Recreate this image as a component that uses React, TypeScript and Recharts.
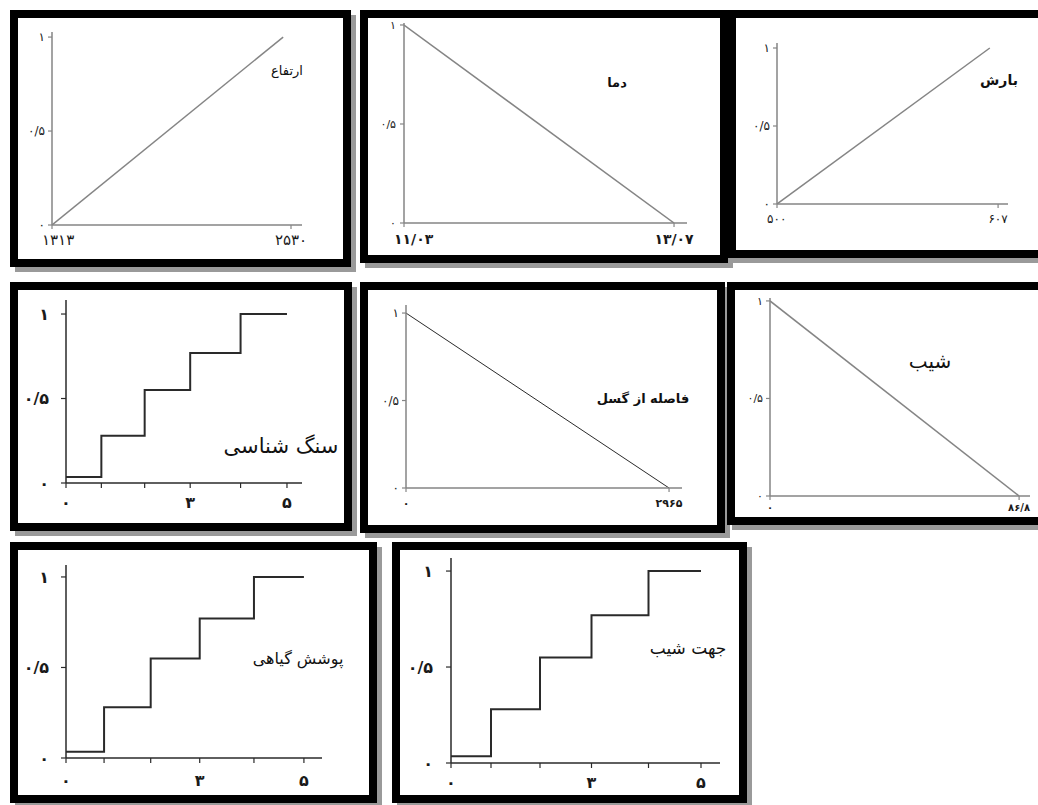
import { LineChart, Line, XAxis, YAxis } from "recharts";

const FONT = "'DejaVu Sans', sans-serif";

// membership axis, shared by every panel
const yTicks = [0, 0.5, 1];
const yTickLabels = ["۰", "۰/۵", "۱"];

// ارتفاع
const elevationX = [1313, 2490];
const elevationY = [0, 1];
const elevationTicks = [1313, 2530];
const elevationTickLabels = ["۱۳۱۳", "۲۵۳۰"];

// دما
const tempX = [11.03, 13.07];
const tempY = [1, 0];
const tempTicks = [11.03, 13.07];
const tempTickLabels = ["۱۱/۰۳", "۱۳/۰۷"];

// بارش
const rainX = [500, 603];
const rainY = [0, 1];
const rainTicks = [500, 607];
const rainTickLabels = ["۵۰۰", "۶۰۷"];

// فاصله از گسل
const faultX = [0, 2965];
const faultY = [1, 0];
const faultTicks = [0, 2965];
const faultTickLabels = ["۰", "۲۹۶۵"];

// شیب
const slopeX = [0, 86.8];
const slopeY = [1, 0];
const slopeTicks = [0, 86.8];
const slopeTickLabels = ["۰", "۸۶/۸"];

// class-based factors (سنگ شناسی، پوشش گیاهی، جهت شیب)
const classX = [0, 0.8, 1.78, 2.81, 3.95, 5];
const classY = [0.035, 0.28, 0.55, 0.77, 1, 1];
const classTicks = [0, 0.8, 1.78, 2.81, 3.95, 5];
const classTickLabels = ["۰", "", "", "۳", "", "۵"];

const toRows = (xs: number[], ys: number[]) => xs.map((x, i) => ({ x, y: ys[i] }));

type PanelProps = {
  box: [number, number, number, number]; // outer left, top, width, height
  plot: [number, number, number, number]; // y-axis x, x-axis y, axis top, axis right
  xDomain: [number, number];
  yDomain: [number, number];
  rows: { x: number; y: number }[];
  xTicks: number[];
  xLabels: string[];
  step?: boolean;
  lineColor: string;
  lineWidth: number;
  axisColor: string;
  yFont: number;
  xFont: number;
  xBold?: boolean;
  xGap: number;
  yGap: number;
  firstStart?: boolean;
  title: string;
  titleAt: [number, number];
  titleSize: number;
  titleBold?: boolean;
};

const BORDER = 8;

function Panel(p: PanelProps) {
  const [left, top, width, height] = p.box;
  const [axisX, axisY, axisTop, axisRight] = p.plot;
  const innerL = left + BORDER;
  const innerT = top + BORDER;
  const innerW = width - 2 * BORDER;
  const innerH = height - 2 * BORDER;
  const tickSize = p.step ? 5 : 4;

  const renderXTick = (t: any) => {
    const start = p.firstStart && t.index === 0;
    return (
      <text
        x={start ? t.x - 10 : t.x}
        y={t.y}
        dy="0.75em"
        textAnchor={start ? "start" : "middle"}
        fontSize={p.xFont}
        fontWeight={p.xBold ? "bold" : "normal"}
        fontFamily={FONT}
        fill="#1a1a1a"
      >
        {p.xLabels[t.index]}
      </text>
    );
  };

  return (
    <>
      <div
        style={{
          position: "absolute",
          left,
          top,
          width,
          height,
          boxSizing: "border-box",
          border: `${BORDER}px solid #000`,
          boxShadow: "5px 5px 0 #9a9a9a",
          background: "#fff",
        }}
      >
        <LineChart
          width={innerW}
          height={innerH}
          data={p.rows}
          margin={{ top: axisTop - innerT, right: innerL + innerW - axisRight, left: 0, bottom: 0 }}
        >
          <XAxis
            type="number"
            dataKey="x"
            domain={p.xDomain}
            ticks={p.xTicks}
            interval={0}
            allowDataOverflow
            height={innerT + innerH - axisY}
            tickSize={tickSize}
            tickMargin={p.xGap}
            tick={renderXTick}
            axisLine={{ stroke: p.axisColor, strokeWidth: 1.5 }}
            tickLine={{ stroke: p.axisColor, strokeWidth: 1.2 }}
          />
          <YAxis
            type="number"
            domain={p.yDomain}
            ticks={yTicks}
            interval={0}
            allowDataOverflow
            width={axisX - innerL}
            tickSize={tickSize}
            tickMargin={p.yGap}
            tickFormatter={(_v: number, i: number) => yTickLabels[i]}
            tick={{ fontSize: p.yFont, fill: "#1a1a1a", fontFamily: FONT, fontWeight: p.step ? "bold" : "normal" }}
            axisLine={{ stroke: p.axisColor, strokeWidth: 1.5 }}
            tickLine={{ stroke: p.axisColor, strokeWidth: 1.2 }}
          />
          <Line
            type={p.step ? "stepAfter" : "linear"}
            dataKey="y"
            stroke={p.lineColor}
            strokeWidth={p.lineWidth}
            dot={false}
            isAnimationActive={false}
          />
        </LineChart>
      </div>
      <div
        style={{
          position: "absolute",
          left: p.titleAt[0],
          top: p.titleAt[1],
          transform: "translate(-50%, -50%)",
          direction: "rtl",
          whiteSpace: "nowrap",
          fontFamily: FONT,
          fontSize: p.titleSize,
          fontWeight: p.titleBold ? "bold" : "normal",
          color: "#111",
          lineHeight: 1,
        }}
      >
        {p.title}
      </div>
    </>
  );
}

const GRAY = "#858585";
const DARK = "#2a2a2a";

export default function App() {
  return (
    <div style={{ position: "absolute", left: 0, top: 0, width: 1038, height: 805, background: "#fff", overflow: "hidden" }}>
      <Panel
        box={[10, 10, 341, 257]}
        plot={[52, 225, 32, 302]}
        xDomain={[1313, 2586]}
        yDomain={[0, 1.027]}
        rows={toRows(elevationX, elevationY)}
        xTicks={elevationTicks}
        xLabels={elevationTickLabels}
        lineColor={GRAY}
        lineWidth={1.5}
        axisColor={GRAY}
        yFont={12}
        xFont={15}
        xGap={5}
        yGap={3}
        firstStart
        title="ارتفاع"
        titleAt={[287, 70]}
        titleSize={13}
      />
      <Panel
        box={[360, 10, 368, 253]}
        plot={[404, 223, 23, 687]}
        xDomain={[11.03, 13.168]}
        yDomain={[0, 1.01]}
        rows={toRows(tempX, tempY)}
        xTicks={tempTicks}
        xLabels={tempTickLabels}
        lineColor={GRAY}
        lineWidth={1.5}
        axisColor={GRAY}
        yFont={11}
        xFont={14}
        xBold
        xGap={6}
        yGap={4}
        firstStart
        title="دما"
        titleAt={[617, 82]}
        titleSize={13}
        titleBold
      />
      <Panel
        box={[728, 10, 322, 248]}
        plot={[777, 204, 43, 1008]}
        xDomain={[500, 611.8]}
        yDomain={[0, 1.032]}
        rows={toRows(rainX, rainY)}
        xTicks={rainTicks}
        xLabels={rainTickLabels}
        lineColor={GRAY}
        lineWidth={1.5}
        axisColor={GRAY}
        yFont={12}
        xFont={12}
        xGap={6}
        yGap={3}
        firstStart
        title="بارش"
        titleAt={[999, 80]}
        titleSize={14}
        titleBold
      />
      <Panel
        box={[10, 282, 342, 249]}
        plot={[66, 483, 300, 302]}
        xDomain={[0, 5.34]}
        yDomain={[0, 1.083]}
        rows={toRows(classX, classY)}
        xTicks={classTicks}
        xLabels={classTickLabels}
        step
        lineColor={DARK}
        lineWidth={2}
        axisColor={DARK}
        yFont={16}
        xFont={16}
        xBold
        xGap={8}
        yGap={12}
        title="سنگ شناسی"
        titleAt={[281, 446]}
        titleSize={21}
      />
      <Panel
        box={[360, 282, 365, 251]}
        plot={[406, 488, 305, 682]}
        xDomain={[0, 3111]}
        yDomain={[0, 1.046]}
        rows={toRows(faultX, faultY)}
        xTicks={faultTicks}
        xLabels={faultTickLabels}
        lineColor={DARK}
        lineWidth={1}
        axisColor={GRAY}
        yFont={12}
        xFont={11}
        xBold
        xGap={7}
        yGap={3}
        title="فاصله از گسل"
        titleAt={[643, 398]}
        titleSize={13}
        titleBold
      />
      <Panel
        box={[727, 282, 323, 243]}
        plot={[770, 496, 298, 1030]}
        xDomain={[0, 90.6]}
        yDomain={[0, 1.015]}
        rows={toRows(slopeX, slopeY)}
        xTicks={slopeTicks}
        xLabels={slopeTickLabels}
        lineColor={GRAY}
        lineWidth={1.5}
        axisColor={GRAY}
        yFont={11}
        xFont={10}
        xBold
        xGap={3}
        yGap={3}
        title="شیب"
        titleAt={[930, 361]}
        titleSize={20}
      />
      <Panel
        box={[10, 542, 367, 261]}
        plot={[66, 758, 565, 322]}
        xDomain={[0, 5.38]}
        yDomain={[0, 1.066]}
        rows={toRows(classX, classY)}
        xTicks={classTicks}
        xLabels={classTickLabels}
        step
        lineColor={DARK}
        lineWidth={2}
        axisColor={DARK}
        yFont={16}
        xFont={16}
        xBold
        xGap={11}
        yGap={12}
        title="پوشش گیاهی"
        titleAt={[298, 659]}
        titleSize={16}
      />
      <Panel
        box={[392, 542, 355, 261]}
        plot={[451, 763, 558, 720]}
        xDomain={[0, 5.38]}
        yDomain={[0, 1.068]}
        rows={toRows(classX, classY)}
        xTicks={classTicks}
        xLabels={classTickLabels}
        step
        lineColor={DARK}
        lineWidth={2}
        axisColor={DARK}
        yFont={16}
        xFont={16}
        xBold
        xGap={8}
        yGap={13}
        title="جهت شیب"
        titleAt={[688, 648]}
        titleSize={17}
      />
    </div>
  );
}
